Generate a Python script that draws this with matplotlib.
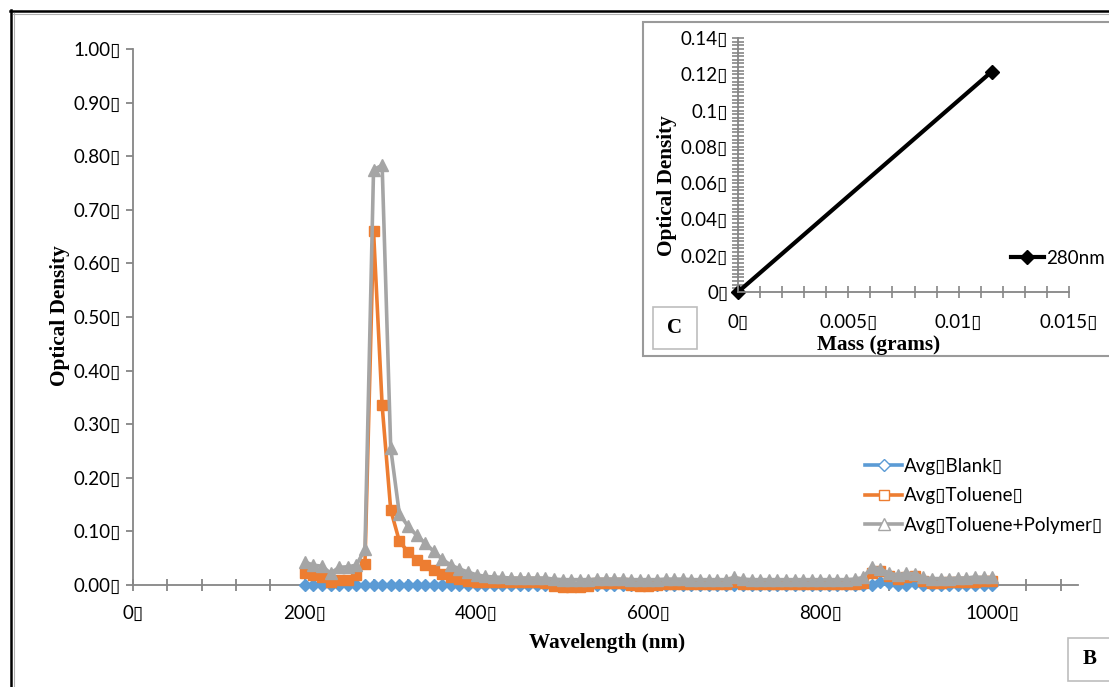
import matplotlib
matplotlib.use("Agg")
import matplotlib.pyplot as plt
from matplotlib.lines import Line2D
from matplotlib.patches import Rectangle
from matplotlib.ticker import MultipleLocator
import numpy as np

plt.rcParams['font.family'] = ['Lato', 'DejaVu Sans']

BOX = "\u25AF"

# absorbance scans, 200-1000 nm every 10 nm
wavelength = np.arange(200, 1001, 10)

avg_blank = [0.0] * 67 + [0.006, 0.004, 0.0, 0.0, 0.004] + [0.0] * 9

avg_toluene = [
    0.022, 0.019, 0.015, 0.006, 0.009, 0.010, 0.019, 0.040, 0.660, 0.335,
    0.140, 0.082, 0.062, 0.047, 0.037, 0.028, 0.021, 0.015, 0.011, 0.008,
    0.006, 0.005, 0.005, 0.005, 0.005, 0.005, 0.005, 0.005, 0.004, -0.002,
    -0.003, -0.003, -0.003, -0.002, 0.003, 0.003, 0.003, 0.003, 0.000, -0.001,
    -0.001, 0.000, 0.002, 0.002, 0.002, 0.002, 0.002, 0.002, 0.002, 0.002,
    0.005, 0.001, 0.001, 0.001, 0.001, 0.001, 0.001, 0.001, 0.001, 0.001,
    0.001, 0.001, 0.001, 0.001, 0.002, 0.003, 0.022, 0.026, 0.017, 0.012,
    0.015, 0.016, 0.008, 0.004, 0.004, 0.005, 0.005, 0.006, 0.006, 0.007,
    0.007,
]

avg_toluene_polymer = [
    0.043, 0.037, 0.035, 0.022, 0.033, 0.034, 0.037, 0.067, 0.775, 0.783,
    0.255, 0.133, 0.110, 0.093, 0.078, 0.063, 0.048, 0.037, 0.030, 0.024,
    0.019, 0.016, 0.015, 0.014, 0.013, 0.013, 0.013, 0.013, 0.013, 0.011,
    0.010, 0.010, 0.010, 0.010, 0.011, 0.011, 0.011, 0.011, 0.010, 0.010,
    0.010, 0.010, 0.011, 0.011, 0.011, 0.010, 0.010, 0.010, 0.010, 0.010,
    0.014, 0.011, 0.010, 0.010, 0.010, 0.010, 0.010, 0.010, 0.010, 0.010,
    0.010, 0.010, 0.010, 0.010, 0.011, 0.014, 0.034, 0.030, 0.022, 0.019,
    0.022, 0.021, 0.014, 0.012, 0.012, 0.012, 0.013, 0.013, 0.015, 0.014,
    0.014,
]

# calibration at 280 nm
mass_g = [0.0, 0.0115]
od_280 = [0.0, 0.1215]

x_ticks = [0, 200, 400, 600, 800, 1000]
y_ticks = [0.0, 0.1, 0.2, 0.3, 0.4, 0.5, 0.6, 0.7, 0.8, 0.9, 1.0]
inset_x_ticks = [0, 0.005, 0.01, 0.015]
inset_x_labels = ["0", "0.005", "0.01", "0.015"]
inset_y_ticks = [0, 0.02, 0.04, 0.06, 0.08, 0.1, 0.12, 0.14]
inset_y_labels = ["0", "0.02", "0.04", "0.06", "0.08", "0.1", "0.12", "0.14"]

blue = '#5B9BD5'
orange = '#ED7D31'
grey = '#A5A5A5'
axis_grey = '#868686'
FS = 13.5

W, H = 1109, 687
fig = plt.figure(figsize=(W / 100, H / 100), dpi=100)

# main spectrum
ax = fig.add_axes([133 / W, 1 - 585 / H, (1078 - 133) / W, (585 - 49) / H])
ax.plot(wavelength, avg_blank, color=blue, lw=2.6, marker='D', ms=6.5,
        clip_on=False, zorder=3)
ax.plot(wavelength, avg_toluene, color=orange, lw=2.6, marker='s', ms=7.5,
        clip_on=False, zorder=4)
ax.plot(wavelength, avg_toluene_polymer, color=grey, lw=2.6, marker='^', ms=8,
        clip_on=False, zorder=5)

ax.set_xlim(0, 1100)
ax.set_ylim(0, 1.0)
for s in ['top', 'right']:
    ax.spines[s].set_visible(False)
for s in ['left', 'bottom']:
    ax.spines[s].set_color(axis_grey)
    ax.spines[s].set_linewidth(1.3)
ax.set_xticks(x_ticks)
ax.set_xticklabels([f"{v}{BOX}" for v in x_ticks])
ax.xaxis.set_minor_locator(MultipleLocator(40))
ax.set_yticks(y_ticks)
ax.set_yticklabels([f"{v:.2f}{BOX}" for v in y_ticks])
ax.tick_params(axis='x', which='both', direction='inout', length=9, width=1.3,
               color=axis_grey, labelsize=FS, pad=10)
ax.tick_params(axis='y', direction='out', length=5, width=1.3,
               color=axis_grey, labelsize=FS, pad=4)

handles = [
    Line2D([], [], color=blue, lw=2.6, marker='D', ms=6.5, mfc='white'),
    Line2D([], [], color=orange, lw=2.6, marker='s', ms=7.5, mfc='white'),
    Line2D([], [], color=grey, lw=2.6, marker='^', ms=8, mfc='white'),
]
labels = [f"Avg{BOX}Blank{BOX}", f"Avg{BOX}Toluene{BOX}",
          f"Avg{BOX}Toluene+Polymer{BOX}"]
fig.legend(handles, labels, loc='upper left',
           bbox_to_anchor=(848 / W, 1 - 441 / H), frameon=False,
           fontsize=FS, handlelength=2.0, handletextpad=0.1,
           labelspacing=0.66)

serif = dict(family='Liberation Serif', weight='bold', size=15.3)
fig.text(60 / W, 1 - 316 / H, 'Optical Density', rotation=90,
         ha='center', va='center', **serif)
fig.text(607 / W, 1 - 643 / H, 'Wavelength (nm)', ha='center', va='center',
         **serif)

# inset panel
panel = Rectangle((643 / W, 1 - 356 / H), (1120 - 643) / W, (356 - 22) / H,
                  transform=fig.transFigure, fc='white', ec='#9a9a9a',
                  lw=1.5, zorder=2)
fig.add_artist(panel)

ins = fig.add_axes([738 / W, 1 - 292 / H, 331 / W, 254 / H])
ins.set_zorder(3)
ins.patch.set_alpha(0)
ins.plot(mass_g, od_280, color='black', lw=3, marker='D', ms=7,
         clip_on=False, label="280nm")
ins.set_xlim(0, 0.015)
ins.set_ylim(0, 0.14)
for s in ['top', 'right']:
    ins.spines[s].set_visible(False)
for s in ['left', 'bottom']:
    ins.spines[s].set_color(axis_grey)
    ins.spines[s].set_linewidth(1.3)
ins.set_xticks(inset_x_ticks)
ins.set_xticklabels([f"{t}{BOX}" for t in inset_x_labels])
ins.xaxis.set_minor_locator(MultipleLocator(0.001))
ins.set_yticks(inset_y_ticks)
ins.set_yticklabels([f"{t}{BOX}" for t in inset_y_labels])
ins.yaxis.set_minor_locator(MultipleLocator(0.002))
ins.tick_params(which='both', direction='inout', length=8, width=1.2,
                color=axis_grey, labelsize=FS)
ins.tick_params(axis='x', pad=12)
ins.tick_params(axis='y', pad=3)
ins.legend(loc='center left', bbox_to_anchor=(1003 / W, 1 - 258 / H),
           bbox_transform=fig.transFigure, frameon=False, fontsize=FS,
           handlelength=1.8, handletextpad=0.1, borderaxespad=0)

fig.text(667 / W, 1 - 186 / H, 'Optical Density', rotation=90,
         ha='center', va='center', zorder=4, **serif)
fig.text(879 / W, 1 - 345 / H, 'Mass (grams)', ha='center', va='center',
         zorder=4, **serif)

# panel letters
for (x0, y0, x1, y1), letter in [((653, 307, 697, 349), 'C'),
                                 ((1068, 638, 1120, 681), 'B')]:
    fig.add_artist(Rectangle((x0 / W, 1 - y1 / H), (x1 - x0) / W,
                             (y1 - y0) / H, transform=fig.transFigure,
                             fc='white', ec='#bdbdbd', lw=1.2, zorder=4))
    fig.text((x0 + 22) / W, 1 - (y0 + y1) / 2 / H, letter, ha='center',
             va='center', zorder=5, family='Liberation Serif',
             weight='bold', size=15)

# outer frame
fig.add_artist(Line2D([11 / W, 11 / W], [0, 1 - 10 / H], color='black',
                      lw=1.8, transform=fig.transFigure))
fig.add_artist(Line2D([10 / W, 1], [1 - 11 / H, 1 - 11 / H], color='black',
                      lw=1.8, transform=fig.transFigure))
fig.add_artist(Line2D([13.5 / W, 13.5 / W], [0, 1 - 13 / H], color='#b0b0b0',
                      lw=0.8, transform=fig.transFigure))
fig.add_artist(Line2D([13 / W, 1], [1 - 13.5 / H, 1 - 13.5 / H],
                      color='#b0b0b0', lw=0.8, transform=fig.transFigure))

fig.savefig('out.png', dpi=100)
